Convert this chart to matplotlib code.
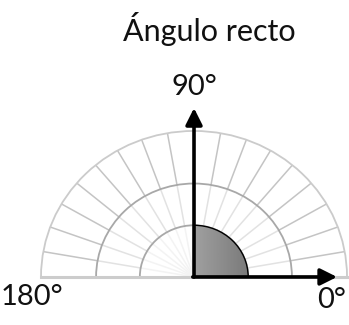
import numpy as np
import matplotlib
matplotlib.use("Agg")
import matplotlib.pyplot as plt
from matplotlib.patches import Arc, Wedge

# data
title = "Ángulo recto"
angle = 90                      # the right angle being shown
tick_angles = list(range(10, 180, 10))   # radial guide lines
radii = [0.354, 0.64, 1.0]      # inner, middle, outer rings
axis_labels = ["0°", "90°", "180°"]

fig = plt.figure(figsize=(3.49, 3.25), dpi=100)
ax = fig.add_axes([0, 0, 1, 1])
ax.set_xlim(-1.268, 1.013)
ax.set_ylim(-0.329, 1.897)
ax.axis("off")

r_in, r_mid, r_out = radii

# radial lines, fading toward the centre
seg_colors = ["#f3f3f3", "#e2e2e2", "#c4c4c4"]
bounds = [0, r_in, r_mid, r_out]
for a in tick_angles:
    t = np.radians(a)
    for i in range(3):
        ax.plot([bounds[i] * np.cos(t), bounds[i + 1] * np.cos(t)],
                [bounds[i] * np.sin(t), bounds[i + 1] * np.sin(t)],
                color=seg_colors[i], lw=1.1, solid_capstyle="butt", zorder=1)

# rings
ring_colors = ["#a8a8a8", "#a8a8a8", "#cbcbcb"]
for r, c in zip(radii, ring_colors):
    ax.add_patch(Arc((0, 0), 2 * r, 2 * r, theta1=0, theta2=180,
                     color=c, lw=1.3, zorder=2))

# base line
ax.plot([-r_out, r_out], [0, 0], color="#cccccc", lw=2.2, zorder=2)

# shaded angle with a grey gradient
wedge = Wedge((0, 0), r_in, 0, angle, facecolor="none",
              edgecolor="black", lw=1.0, zorder=5)
ax.add_patch(wedge)
grad = np.linspace(0, 1, 100).reshape(1, -1)
im = ax.imshow(grad, extent=[0, r_in, 0, r_in], cmap="gray_r",
               vmin=-2.5, vmax=4.2, aspect="auto", zorder=4,
               interpolation="bilinear")
im.set_clip_path(wedge)

# arrows
arrow = dict(arrowstyle="-|>,head_length=1.0,head_width=0.5",
             mutation_scale=10, lw=2.6, color="black",
             shrinkA=0, shrinkB=0)
ax.annotate("", xy=(0, 1.157), xytext=(0, 0), arrowprops=arrow, zorder=6)
ax.annotate("", xy=(0.935, 0), xytext=(-0.008, 0), arrowprops=arrow, zorder=6)

font = ["Lato", "DejaVu Sans"]
txt = dict(ha="center", va="center", family=font, color="#111111")
ax.text(0.10, 1.70, title, fontsize=22, **txt)
ax.text(0.0, 1.30, axis_labels[1], fontsize=21, **txt)
ax.text(-1.06, -0.135, axis_labels[2], fontsize=21, **txt)
ax.text(0.90, -0.155, axis_labels[0], fontsize=21, **txt)

fig.savefig("out.png", dpi=100)
